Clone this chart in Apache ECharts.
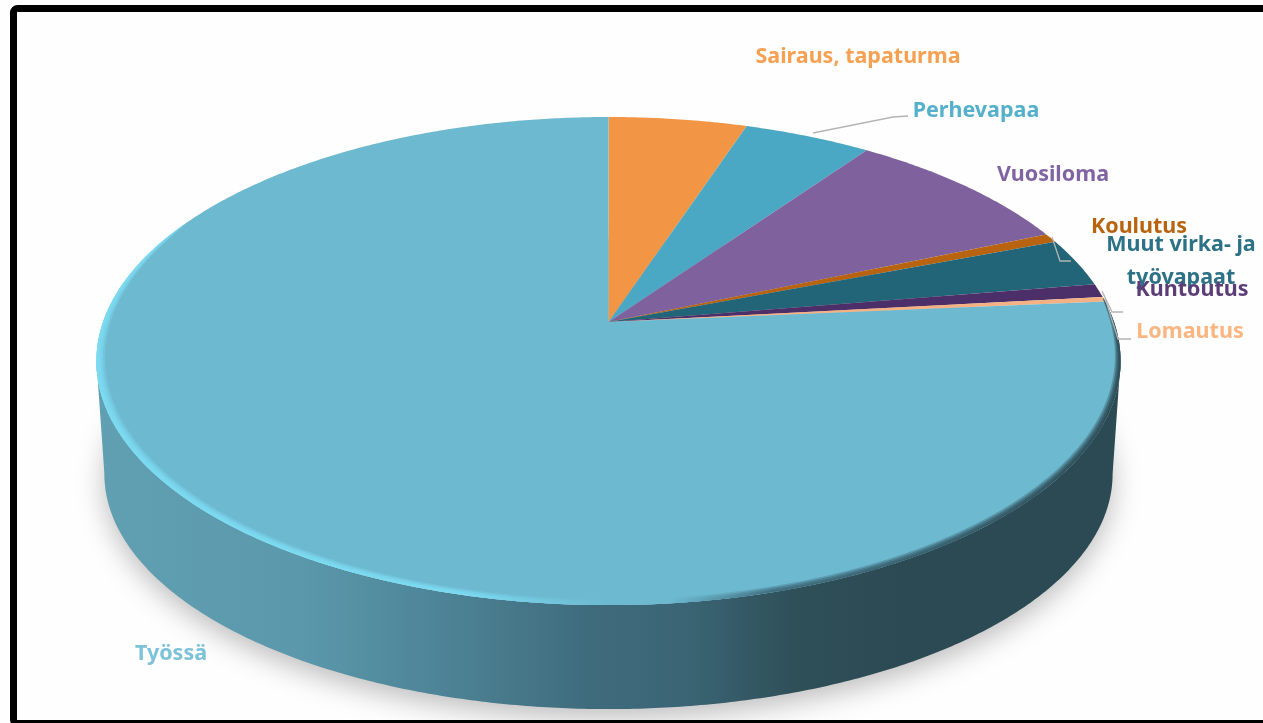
<!DOCTYPE html>
<html><head><meta charset="utf-8">
<style>html,body{margin:0;padding:0;background:#fff}#c{width:1263px;height:723px;filter:blur(0.45px)}</style>
<script src="https://cdn.jsdelivr.net/npm/echarts@6/dist/echarts.min.js"></script>
</head><body><div id="c"></div>
<script>
// Data, clockwise from 12 o'clock
const categories = ['Sairaus, tapaturma','Perhevapaa','Vuosiloma','Koulutus','Muut virka- ja\ntyövapaat','Kuntoutus','Lomautus','Työssä'];
const shares = [5.1, 4.7, 8.8, 0.6, 3.2, 0.9, 0.3, 76.4];

// Styling and layout, indexed like categories
const faceColors = ['#f29544','#4aa8c4','#7e619d','#b8630f','#236578','#4c2f68','#f6b183','#6db9d0'];
const labelColors = ['#f6a052','#55b1cb','#8064a2','#b8640f','#2d7186','#5b3d78','#fbb580','#7cc2d8'];
const labelAnchors = [[858,57],[976,111],[1053,175],[1139,227],[1181,261],[1192,290],[1190,332],[171,654]];
const leaders = [
  [[813,133],[893,117],[908,116]],
  [[1052,237],[1060,261],[1071,261]],
  [[1102,291],[1112,312],[1123,312]],
  [[1105,298],[1118,339],[1131,339]]
];

// Projection of the tilted disc
const P = {cx:608.5, apexY:322, d:505.5, k:237.8, c:0.16, ey:361, rx:511, ry:244, bottomY:474, brx:503, bry:235};
const project = deg => {
  const t = deg*Math.PI/180, u = Math.sin(t), v = Math.cos(t), w = 1+P.c*v;
  return [P.cx + P.d*u/w, P.apexY - P.k*v/w];
};
const toBottom = p => [P.cx+(p[0]-P.cx)*P.brx/P.rx, P.bottomY+(p[1]-P.ey)*P.bry/P.ry];
const total = shares.reduce((a,b)=>a+b,0);
const startOf = i => shares.slice(0,i).reduce((a,b)=>a+b,0)/total*360;
const arc = (a,b) => { const out=[]; const n=Math.max(2,Math.ceil((b-a)*2)); for(let i=0;i<=n;i++) out.push(a+(b-a)*i/n); return out; };
const FRONT = [99.2, 260.8], RIM = [84, 296];
const clip = (a,b,r) => [Math.max(a,r[0]), Math.min(b,r[1])];
const hGrad = stops => ({type:'linear',x:97,y:0,x2:1120,y2:0,global:true,colorStops:stops.map(s=>({offset:s[0],color:s[1]}))});
const wallFill = hGrad([[0,'#619fb3'],[0.2,'#5b98ab'],[0.32,'#4f8699'],[0.48,'#3f6c7d'],[0.58,'#3a6474'],[0.68,'#2f5059'],[0.78,'#2c4a53'],[1,'#2c4a53']]);
const rimFill = hGrad([[0,'#7cdcf2'],[0.36,'#7cdcf2'],[0.5,'#6db9d0'],[0.56,'#6db9d0'],[0.66,'#3f6c7d'],[1,'#2c4a53']]);
const rimBands = [[0.024,0.35],[0.018,0.5],[0.012,0.6],[0.006,0.7]];
const rows = shares.map((v,i)=>[v,i]);

const chart = echarts.init(document.getElementById('c'));
chart.setOption({
  animation:false,
  backgroundColor:'#fefefe',
  graphic:[{type:'rect',z:100,silent:true,shape:{x:13.5,y:8.5,width:1300,height:715,r:4},style:{fill:'none',stroke:'#000',lineWidth:7}}],
  series:[
    {type:'custom',coordinateSystem:'none',silent:true,z:1,data:[[1]],renderItem(){
      const pts=arc(0,360).map(project).map(toBottom);
      return {type:'polygon',shape:{points:pts},style:{fill:'#c8c8c8',shadowBlur:28,shadowOffsetY:9,shadowColor:'rgba(0,0,0,0.26)'}};
    }},
    {type:'custom',coordinateSystem:'none',silent:true,z:2,data:rows,renderItem(p,api){
      const i=api.value(1), a=startOf(i), r=clip(a,a+api.value(0)/total*360,FRONT);
      if(r[1]<=r[0]) return {type:'group',children:[]};
      const top=arc(r[0],r[1]).map(project), bot=top.map(toBottom).reverse();
      return {type:'polygon',shape:{points:top.concat(bot)},style:{fill:wallFill}};
    }},
    {type:'custom',coordinateSystem:'none',silent:true,z:3,data:rows,renderItem(p,api){
      const i=api.value(1), a=startOf(i), pts=arc(a,a+api.value(0)/total*360).map(project);
      return {type:'polygon',shape:{points:[[P.cx,P.apexY]].concat(pts)},style:{fill:faceColors[i]}};
    }},
    {type:'custom',coordinateSystem:'none',silent:true,z:4,data:rows,renderItem(p,api){
      const i=api.value(1), a=startOf(i), r=clip(a,a+api.value(0)/total*360,RIM);
      if(r[1]<=r[0]) return {type:'group',children:[]};
      const angs=arc(r[0],r[1]);
      const outer=angs.map(project);
      return {type:'group',children:rimBands.map(b=>{
        const inner=angs.map((d,j)=>{
          const q=outer[j], f=Math.sin(Math.PI*(d-RIM[0])/(RIM[1]-RIM[0])), s=b[0]*Math.pow(f,0.5);
          return [P.cx+(q[0]-P.cx)*(1-s), P.ey+(q[1]-P.ey)*(1-s)];
        }).reverse();
        return {type:'polygon',shape:{points:outer.concat(inner)},style:{fill:rimFill,opacity:b[1]}};
      })};
    }},
    {type:'custom',coordinateSystem:'none',silent:true,z:5,data:leaders.map((l,i)=>[i]),renderItem(p,api){
      return {type:'polyline',shape:{points:leaders[api.value(0)]},style:{fill:'none',stroke:'#b4b4b4',lineWidth:1.3}};
    }},
    {type:'custom',coordinateSystem:'none',silent:true,z:6,data:rows,renderItem(p,api){
      const i=api.value(1), q=labelAnchors[i];
      return {type:'text',x:q[0],y:q[1],style:{text:categories[i],fill:labelColors[i],font:'700 21.5px "Noto Sans"',align:'center',verticalAlign:'middle',lineHeight:33}};
    }}
  ]
});
</script></body></html>
